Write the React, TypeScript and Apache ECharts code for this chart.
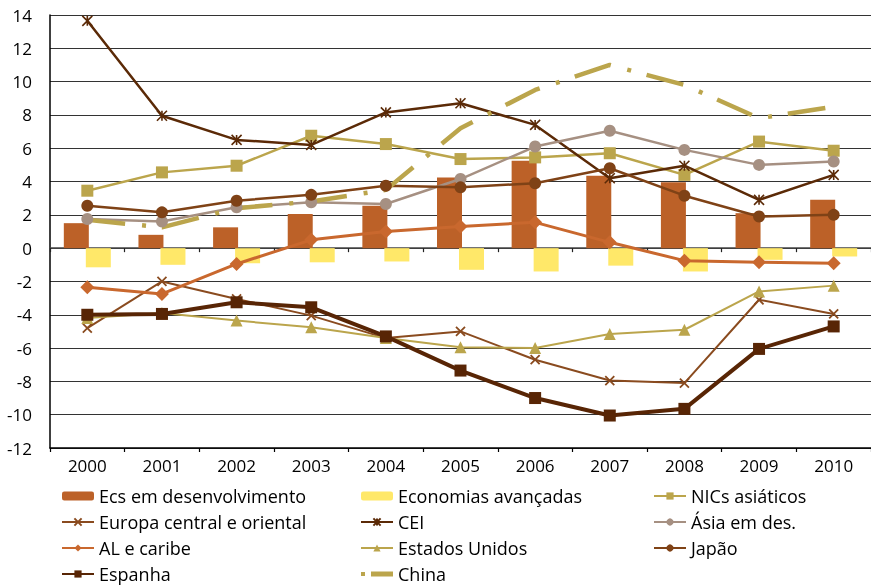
import React, { useEffect, useRef } from "react";
import * as echarts from "echarts";

const years = ["2000", "2001", "2002", "2003", "2004", "2005", "2006", "2007", "2008", "2009", "2010"];
const yTicks = { min: -12, max: 14, interval: 2 };

const ecsDesenv = [1.5, 0.8, 1.25, 2.05, 2.55, 4.25, 5.25, 4.35, 3.95, 2.1, 2.9];
const econAvanc = [-1.15, -1.0, -0.9, -0.85, -0.8, -1.3, -1.4, -1.05, -1.4, -0.7, -0.5];
const nics = [3.45, 4.55, 4.95, 6.75, 6.25, 5.35, 5.45, 5.7, 4.4, 6.4, 5.85];
const europa = [-4.8, -2.0, -3.05, -4.05, -5.4, -5.0, -6.7, -7.95, -8.1, -3.1, -3.95];
const cei = [13.65, 7.95, 6.5, 6.2, 8.15, 8.7, 7.4, 4.2, 4.95, 2.9, 4.4];
const asia = [1.75, 1.6, 2.45, 2.75, 2.65, 4.15, 6.1, 7.05, 5.9, 5.0, 5.2];
const alCaribe = [-2.35, -2.75, -0.95, 0.5, 1.0, 1.3, 1.55, 0.35, -0.75, -0.85, -0.9];
const eua = [-4.2, -3.9, -4.35, -4.75, -5.4, -5.95, -6.0, -5.15, -4.9, -2.6, -2.25];
const japao = [2.55, 2.15, 2.85, 3.2, 3.75, 3.65, 3.9, 4.8, 3.15, 1.9, 2.0];
const espanha = [-4.0, -3.95, -3.25, -3.55, -5.3, -7.35, -9.0, -10.05, -9.65, -6.05, -4.7];
const china = [1.7, 1.25, 2.4, 2.8, 3.5, 7.2, 9.5, 11.0, 9.8, 7.8, 8.5];

const FONT = "'Open Sans', 'Noto Sans', sans-serif";
const STAR = "path://M0,0L10,10M10,0L0,10M5,0L5,10";
const CROSS = "path://M0,0L10,10M10,0L0,10";
const CHINA_ICON = "path://M0,3h4v4h-4z M10,2.5h22v5h-22z";

export default function App() {
  const ref = useRef<HTMLDivElement>(null);
  useEffect(() => {
    if (!ref.current) return;
    const chart = echarts.init(ref.current, undefined, { renderer: "svg" });
    const line = (name: string, data: number[], color: string, width: number, symbol: string, size: number, extra: any = {}) => ({
      name,
      type: "line",
      data,
      xAxisIndex: 0,
      symbol,
      symbolSize: size,
      lineStyle: { color, width },
      itemStyle: { color },
      ...extra,
    });
    const legendText = { fontFamily: FONT, fontSize: 18, color: "#000", lineHeight: 17 };
    const legendBase = {
      orient: "vertical",
      top: 487,
      height: 100,
      padding: 0,
      itemWidth: 32,
      itemHeight: 9,
      itemGap: 8,
      textStyle: legendText,
      selectedMode: false,
    };
    chart.setOption({
      animation: false,
      grid: { left: 50, top: 15, width: 825, height: 433 },
      xAxis: [
        {
          type: "category",
          data: years,
          position: "bottom",
          axisLine: { onZero: false, lineStyle: { color: "#000", width: 1.5 } },
          axisTick: { show: true, length: 4, lineStyle: { color: "#000", width: 1.2 } },
          axisLabel: { fontFamily: FONT, fontSize: 17, color: "#000", margin: 9 },
          splitLine: { show: false },
        },
        {
          type: "category",
          data: years,
          position: "top",
          axisLine: { onZero: true, lineStyle: { color: "#444", width: 1.5 } },
          axisTick: { show: true, inside: true, length: 4, lineStyle: { color: "#222", width: 1.2 } },
          axisLabel: { show: false },
          splitLine: { show: false },
        },
      ],
      yAxis: {
        type: "value",
        min: yTicks.min,
        max: yTicks.max,
        interval: yTicks.interval,
        axisLine: { show: true, lineStyle: { color: "#000", width: 1.5 } },
        axisTick: { show: false },
        axisLabel: { fontFamily: FONT, fontSize: 17, color: "#000", margin: 18 },
        splitLine: { lineStyle: { color: "#333", width: 1.2 } },
      },
      legend: [
        { ...legendBase, left: 61, data: ["Ecs em desenvolvimento", "Europa central e oriental", "AL e caribe", "Espanha"] },
        {
          ...legendBase,
          left: 360,
          data: ["Economias avançadas", "CEI", "Estados Unidos", { name: "China", icon: CHINA_ICON }],
        },
        { ...legendBase, left: 653, data: ["NICs asiáticos", "Ásia em des.", "Japão"] },
      ],
      series: [
        {
          name: "Ecs em desenvolvimento",
          type: "bar",
          data: ecsDesenv,
          barWidth: 25,
          barGap: "-12%",
          itemStyle: { color: "#BC6128" },
        },
        {
          name: "Economias avançadas",
          type: "bar",
          data: econAvanc,
          barWidth: 25,
          barGap: "-12%",
          itemStyle: { color: "#FFE869" },
        },
        line("NICs asiáticos", nics, "#BBA54C", 2.5, "rect", 12),
        line("Europa central e oriental", europa, "#8A4B1F", 2, CROSS, 9, {
          itemStyle: { color: "#8A4B1F", borderColor: "#8A4B1F", borderWidth: 1.8 },
        }),
        line("CEI", cei, "#5B2A07", 2.5, STAR, 10, {
          itemStyle: { color: "#5B2A07", borderColor: "#5B2A07", borderWidth: 1.6 },
        }),
        line("Ásia em des.", asia, "#A69082", 2.5, "circle", 12),
        line("AL e caribe", alCaribe, "#C9682E", 3, "diamond", 14),
        line("Estados Unidos", eua, "#BBA54C", 2, "triangle", 12),
        line("Japão", japao, "#7F4216", 2.5, "circle", 12),
        line("Espanha", espanha, "#582505", 4, "rect", 12),
        {
          name: "China",
          type: "line",
          data: china,
          symbol: "none",
          lineStyle: { color: "#BBA54C", width: 4.5, type: [38, 17, 4, 16], cap: "butt" },
          itemStyle: { color: "#BBA54C" },
        },
      ],
    });
    return () => chart.dispose();
  }, []);
  return <div ref={ref} style={{ position: "fixed", left: 0, top: 0, width: 871, height: 587 }} />;
}
